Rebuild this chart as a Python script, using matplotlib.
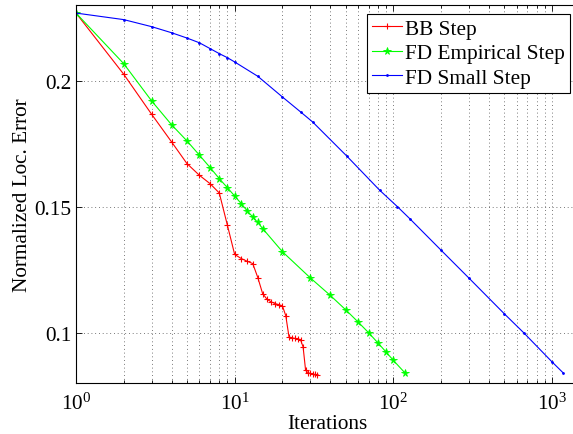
import numpy as np
import matplotlib
matplotlib.use('Agg')
import matplotlib.pyplot as plt
from matplotlib.ticker import LogLocator, FixedLocator, FuncFormatter, NullLocator

plt.rcParams['font.family'] = ['Liberation Serif', 'DejaVu Serif']
plt.rcParams['mathtext.fontset'] = 'custom'
plt.rcParams['mathtext.rm'] = 'Liberation Serif'
plt.rcParams['mathtext.it'] = 'Liberation Serif:italic'
plt.rcParams['font.size'] = 15.3

# BB step, one point per iteration
bb_iter = list(range(1, 34))
bb_err = [0.2268, 0.2025, 0.1866, 0.1757, 0.1671, 0.1624, 0.1591, 0.1554, 0.1426, 0.1310,
          0.1294, 0.1283, 0.1274, 0.1218, 0.1155, 0.1132, 0.1122, 0.1115, 0.1111, 0.1106,
          0.1067, 0.0983, 0.0979, 0.0977, 0.0975, 0.0972, 0.0943, 0.0850, 0.0841, 0.0838,
          0.0836, 0.0834, 0.0833]

# FD empirical step (values read at these iterations)
emp_iter = [1, 2, 3, 4, 5, 6, 7, 8, 9, 10, 11, 12, 13, 14, 15, 20, 30, 40, 50, 60, 70, 80, 90, 100, 118]
emp_err = [0.2268, 0.2067, 0.1919, 0.1825, 0.1761, 0.1704, 0.1655, 0.1611, 0.1575, 0.1542,
           0.1512, 0.1483, 0.1459, 0.1437, 0.1413, 0.1321, 0.1217, 0.1148, 0.1091, 0.1042,
           0.0999, 0.0959, 0.0923, 0.0890, 0.0841]

# FD small step (values read at these iterations)
small_iter = [1, 2, 3, 4, 5, 6, 7, 8, 9, 10, 14, 20, 26, 31, 51, 82, 106, 127, 200, 300, 500, 662, 1000, 1177]
small_err = [0.2268, 0.2242, 0.2214, 0.2190, 0.2169, 0.2150, 0.2127, 0.2107, 0.2091, 0.2074,
             0.2017, 0.1935, 0.1876, 0.1836, 0.1700, 0.1565, 0.1500, 0.1452, 0.1327, 0.1216,
             0.1075, 0.1000, 0.0884, 0.0840]

yticks = [0.1, 0.15, 0.2]

fig = plt.figure(figsize=(5.73, 4.35), dpi=100)
ax = fig.add_axes([76/573, 51/435, 503/573, 378/435])

ax.plot(bb_iter, bb_err, color=(1, 0, 0), lw=0.8, marker='+', ms=5, mew=0.8, label='BB Step')
ax.plot(emp_iter, emp_err, color=(0, 1, 0), lw=0.8, marker='*', ms=5.5, mew=0.6, label='FD Empirical Step')
ax.plot(small_iter, small_err, color=(0, 0, 1), lw=0.8, marker='.', ms=2, label='FD Small Step')

ax.set_xscale('log')
ax.set_xlim(1, 1480)
ax.set_ylim(0.08, 0.23)
ax.yaxis.set_major_locator(FixedLocator(yticks))
ax.yaxis.set_major_formatter(FuncFormatter(lambda v, p: '%g' % v))
ax.yaxis.set_minor_locator(NullLocator())
ax.xaxis.set_minor_locator(LogLocator(base=10, subs=np.arange(2, 10), numticks=20))

grid_style = dict(color='0.3', lw=0.6, linestyle=(0, (1, 3.5)))
ax.grid(True, which='major', axis='both', **grid_style)
ax.grid(True, which='minor', axis='x', **grid_style)

ax.tick_params(which='both', direction='in', top=True, right=True)
ax.tick_params(which='major', length=4, width=0.6)
ax.tick_params(which='minor', length=2.5, width=0.6)
ax.tick_params(axis='x', pad=7)
ax.tick_params(axis='y', pad=3)
for s in ax.spines.values():
    s.set_linewidth(0.8)

ax.set_xlabel('Iterations', labelpad=0)
ax.set_ylabel('Normalized Loc. Error', labelpad=2)

leg = ax.legend(loc='upper right', handlelength=1.4, handletextpad=0.16, borderpad=0.25,
                labelspacing=0.22, borderaxespad=0.4, fancybox=False, framealpha=1)
leg.get_frame().set_edgecolor('black')
leg.get_frame().set_linewidth(0.8)

fig.savefig('out.png', dpi=100)
